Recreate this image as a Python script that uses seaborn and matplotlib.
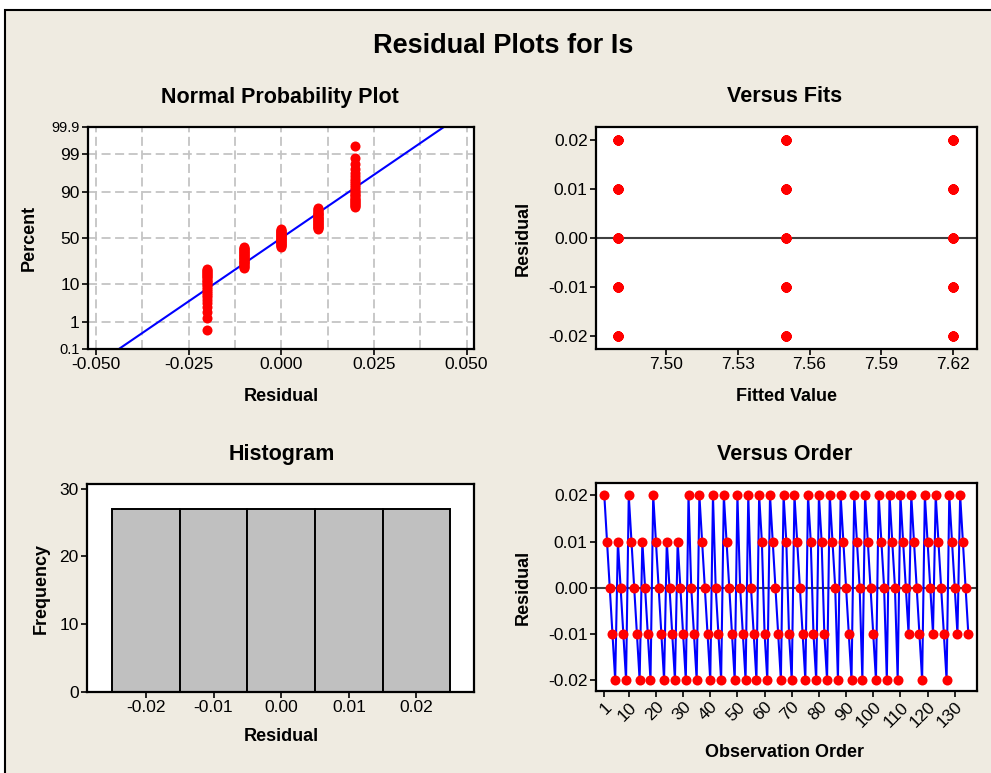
import matplotlib
matplotlib.use("Agg")
import matplotlib.pyplot as plt
import seaborn as sns
import numpy as np
import pandas as pd
from statistics import NormalDist
from matplotlib.patches import Rectangle

# residuals in observation order, in steps of 0.01
residual_steps = [
    2, 1, 0, -1, -2, 1, 0, -1, -2, 2,
    1, 0, -1, -2, 1, 0, -1, -2, 2, 1,
    0, -1, -2, 1, 0, -1, -2, 1, 0, -1,
    -2, 2, 0, -1, -2, 2, 1, 0, -1, -2,
    2, 0, -1, -2, 2, 1, 0, -1, -2, 2,
    0, -1, -2, 2, 0, -1, -2, 2, 1, -1,
    -2, 2, 1, 0, -1, -2, 2, 1, -1, -2,
    2, 1, 0, -1, -2, 2, 1, -1, -2, 2,
    1, -1, -2, 2, 1, 0, -2, 2, 1, 0,
    -1, -2, 2, 1, 0, -2, 2, 1, 0, -1,
    -2, 2, 1, 0, -2, 2, 1, 0, -2, 2,
    1, 0, -1, 2, 1, 0, -1, -2, 2, 1,
    0, -1, 2, 1, 0, -1, -2, 2, 1, 0,
    -1, 2, 1, 0, -1,
]
fitted_levels = [7.48, 7.55, 7.62]
pct_ticks = [0.1, 1, 10, 50, 90, 99, 99.9]
pct_labels = ["0.1", "1", "10", "50", "90", "99", "99.9"]
npp_xticks = [-0.050, -0.025, 0.000, 0.025, 0.050]
fits_xticks = [7.50, 7.53, 7.56, 7.59, 7.62]
resid_ticks = [-0.02, -0.01, 0.00, 0.01, 0.02]
hist_yticks = [0, 10, 20, 30]
order_xticks = [1, 10, 20, 30, 40, 50, 60, 70, 80, 90, 100, 110, 120, 130]

resid = np.array(residual_steps) / 100.0
n = len(resid)
order = np.arange(1, n + 1)
fitted = np.repeat(fitted_levels, n // len(fitted_levels))
df = pd.DataFrame({"order": order, "resid": resid, "fitted": fitted})

# normal probability plot data (median ranks, as Minitab)
nd = NormalDist()
srt = np.sort(resid)
z_pts = np.array([nd.inv_cdf((i - 0.3) / (n + 0.4)) for i in range(1, n + 1)])
z_lo, z_hi = nd.inv_cdf(0.001), nd.inv_cdf(0.999)
mu, sd = resid.mean(), resid.std(ddof=1)
fit_line = pd.DataFrame({"x": [mu + sd * z_lo, mu + sd * z_hi], "z": [z_lo, z_hi]})

sns.set_style("ticks")
plt.rcParams["font.family"] = ["Liberation Sans", "DejaVu Sans"]
plt.rcParams["axes.unicode_minus"] = False
for k in ("text.color", "axes.labelcolor", "xtick.color", "ytick.color"):
    plt.rcParams[k] = "black"

W, H = 991, 773
BG = "#EFEBE1"
RED = "#FF0000"
BLUE = "#0000FF"
fig = plt.figure(figsize=(W / 100, H / 100), dpi=100)
fig.patch.set_facecolor("white")
fig.patches.append(Rectangle((5 / W, -0.05), 1.2, (H - 9.5) / H + 0.05, transform=fig.transFigure,
                             facecolor=BG, edgecolor="black", linewidth=1.5, zorder=-10))


def box(l, t, r, b):
    return fig.add_axes([l / W, 1 - b / H, (r - l) / W, (b - t) / H])


def style(ax):
    ax.set_facecolor("white")
    for s in ax.spines.values():
        s.set_visible(True)
        s.set_linewidth(1.6)
        s.set_color("black")
    ax.tick_params(direction="out", length=4, width=1.2, colors="black", labelsize=12.5, pad=2)


def ftitle(x, y, txt, size=15.5):
    fig.text(x / W, 1 - y / H, txt, ha="center", va="center", fontsize=size, fontweight="bold")


ftitle(503, 46, "Residual Plots for Is", 19.5)
ftitle(280, 97, "Normal Probability Plot")
ftitle(785, 97, "Versus Fits")
ftitle(282, 454, "Histogram")
ftitle(785, 454, "Versus Order")

LAB = dict(fontsize=13, fontweight="bold")
DOT = dict(color=RED, s=52, linewidth=0, zorder=3)

# --- Normal probability plot
ax1 = box(88, 127, 474, 349)
style(ax1)
for gx in np.arange(-0.05, 0.0501, 0.0125):
    ax1.axvline(gx, color="#C4C4C4", lw=1.3, ls=(0, (5, 2.5)), zorder=0)
for p in pct_ticks[1:-1]:
    ax1.axhline(nd.inv_cdf(p / 100), color="#C4C4C4", lw=1.3, ls=(0, (5, 2.5)), zorder=0)
sns.lineplot(data=fit_line, x="x", y="z", color=BLUE, lw=1.5, ax=ax1, zorder=2)
sns.scatterplot(x=srt, y=z_pts, ax=ax1, **DOT)
ax1.set_xlim(-0.0522, 0.052)
ax1.set_ylim(z_lo, z_hi)
ax1.set_xticks(npp_xticks)
ax1.set_xticklabels([f"{v:.3f}" for v in npp_xticks])
ax1.set_yticks([nd.inv_cdf(p / 100) for p in pct_ticks])
ax1.set_yticklabels(pct_labels)
for lab in (ax1.get_yticklabels()[0], ax1.get_yticklabels()[-1]):
    lab.set_fontsize(10.5)
ax1.set_xlabel("Residual", **LAB)
ax1.set_ylabel("Percent", **LAB)
ax1.xaxis.set_label_coords(0.502, -0.216)
ax1.yaxis.set_label_coords(-0.153, 0.5)

# --- Versus fits
ax2 = box(596, 127, 977, 349)
style(ax2)
ax2.axhline(0, color="#404040", lw=1.5, zorder=1)
sns.scatterplot(data=df, x="fitted", y="resid", ax=ax2, **DOT)
ax2.set_xlim(7.4709, 7.6299)
ax2.set_ylim(-0.0227, 0.0226)
ax2.set_xticks(fits_xticks)
ax2.set_xticklabels([f"{v:.2f}" for v in fits_xticks])
ax2.set_yticks(resid_ticks)
ax2.set_yticklabels([f"{v:.2f}" for v in resid_ticks])
ax2.set_xlabel("Fitted Value", **LAB)
ax2.set_ylabel("Residual", **LAB)
ax2.xaxis.set_label_coords(0.499, -0.216)
ax2.yaxis.set_label_coords(-0.19, 0.5)

# --- Histogram
ax3 = box(87, 484, 474, 692)
style(ax3)
edges = np.arange(-0.025, 0.0251, 0.01)
sns.histplot(x=resid, bins=edges, color="#C0C0C0", edgecolor="black", linewidth=1.4,
             alpha=1, ax=ax3)
ax3.set_xlim(-0.0287, 0.0285)
ax3.set_ylim(0, 30.7)
ax3.set_xticks(resid_ticks)
ax3.set_xticklabels([f"{v:.2f}" for v in resid_ticks])
ax3.set_yticks(hist_yticks)
ax3.set_xlabel("Residual", **LAB)
ax3.set_ylabel("Frequency", **LAB)
ax3.xaxis.set_label_coords(0.503, -0.216)
ax3.yaxis.set_label_coords(-0.119, 0.5)

# --- Versus order
ax4 = box(596, 483, 977, 691)
style(ax4)
ax4.axhline(0, color="#404040", lw=1.5, zorder=1)
sns.lineplot(data=df, x="order", y="resid", color=BLUE, lw=1.5, ax=ax4, zorder=2)
sns.scatterplot(data=df, x="order", y="resid", ax=ax4, **DOT)
ax4.set_xlim(-2.06, 138.2)
ax4.set_ylim(-0.0224, 0.0227)
ax4.set_xticks(order_xticks)
ax4.set_xticklabels([str(v) for v in order_xticks], rotation=45, ha="right", va="top",
                    rotation_mode="anchor")
ax4.set_yticks(resid_ticks)
ax4.set_yticklabels([f"{v:.2f}" for v in resid_ticks])
ax4.set_xlabel("Observation Order", **LAB)
ax4.set_ylabel("Residual", **LAB)
ax4.xaxis.set_label_coords(0.496, -0.298)
ax4.yaxis.set_label_coords(-0.19, 0.5)
for ax in (ax1, ax2, ax3, ax4):
    ax.xaxis.label.set_va("center")
    ax.yaxis.label.set_va("center")

fig.savefig("out.png", dpi=100, facecolor=fig.get_facecolor())
